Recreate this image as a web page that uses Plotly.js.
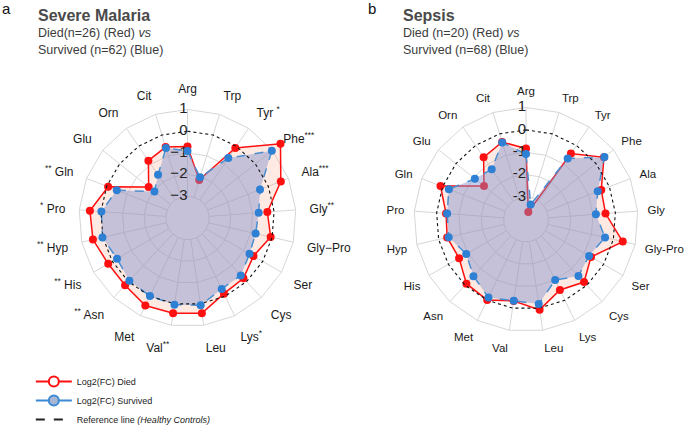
<!DOCTYPE html>
<html>
<head>
<meta charset="utf-8">
<script src="https://cdn.plot.ly/plotly-3.0.1.min.js"></script>
<style>html,body{margin:0;padding:0;background:#fff;}#chart{width:685px;height:426px;}</style>
</head>
<body>
<div id="chart"></div>
<script>
// ---- data ----
const categories = ['Arg','Trp','Tyr','Phe','Ala','Gly','Gly-Pro','Ser','Cys','Lys','Leu','Val','Met','Asn','His','Hyp','Pro','Gln','Glu','Orn','Cit'];
const malariaLabels = ['Arg','Trp','Tyr <sup>*</sup>','Phe<sup>***</sup>','Ala<sup>***</sup>','Gly<sup>**</sup>','Gly\u2212Pro','Ser','Cys','Lys<sup>*</sup>','Leu','Val<sup>**</sup>','Met','<sup>**</sup> Asn','<sup>**</sup> His','<sup>**</sup> Hyp','<sup>*</sup> Pro','<sup>**</sup> Gln','Glu','Orn','Cit'];
const sepsisLabels = ['Arg','Trp','Tyr','Phe','Ala','Gly','Gly-Pro','Ser','Cys','Lys','Leu','Val','Met','Asn','His','Hyp','Pro','Gln','Glu','Orn','Cit'];
const malariaDied =     [-0.71,-2.17,-0.09, 1.48, 0.62,-0.31,-0.07,-0.49,-0.21,-0.13, 0.44, 0.44, 0.48, 0.23, 0.22, 0.47, 0.51,-0.07,-1.71,-0.80,-0.58];
const malariaSurvived = [-0.91,-2.04,-0.66, 0.97,-0.41,-0.71,-0.78,-0.70,-0.39,-0.37, 0.07, 0.04,-0.01,-0.06,-0.25, 0.02,-0.02,-0.50,-2.05,-1.59,-0.63];
const sepsisDied =      [-0.83,-3.65,-0.44, 0.45,-0.39,-0.44, 0.43,-0.65,-0.19,-0.51, 0.08,-0.32,-0.01,-0.09,-0.55,-0.39,-0.42, 0.10,-1.60,-0.64,-0.38];
const sepsisSurvived =  [-1.08,-3.30,-0.70, 0.48,-0.56,-0.87,-0.38,-0.75,-0.56,-1.00,-0.18,-0.33,-0.14,-0.55,-0.92,-0.46,-0.47,-0.30,-1.08,-1.28,-0.40];
const referenceValue = 0;
const gridRings = [-3,-2,-1,1];
const radialTicks = [-3,-2,-1,0,1];
const malariaTickText = ['\u22123','\u22122','\u22121','0','1'];
const sepsisTickText = ['-3','-2','-1','0','1'];

// ---- styling ----
const FONT = 'Liberation Sans, Arial, sans-serif';
const GRID = '#d6d6d6';
const RED = '#ff1010';
const BLUE_LINE = '#4a8fd2';
const BLUE_MK = '#2e80d4';

function closed(a){ return a.concat([a[0]]); }

function gridTrace(sub){
  const th = [], r = [];
  // spokes from the innermost ring to the outer ring
  categories.forEach(c => { th.push(c,c,c); r.push(gridRings[0], gridRings[gridRings.length-1], null); });
  // polygonal rings
  gridRings.forEach(v => { closed(categories).forEach(c => { th.push(c); r.push(v); }); th.push(categories[0]); r.push(null); });
  return {type:'scatterpolar', subplot:sub, theta:th, r:r, mode:'lines',
    line:{color:GRID, width:1}, hoverinfo:'skip', showlegend:false, connectgaps:false};
}
function area(sub, vals, isRed){
  return {type:'scatterpolar', subplot:sub, theta:closed(categories), r:closed(vals),
    mode:'lines', fill:'toself',
    fillcolor: isRed ? 'rgba(250,150,110,0.20)' : 'rgba(128,145,205,0.45)',
    line: isRed ? {color:RED, width:1.5} : {color:BLUE_LINE, width:1.5, dash:'dash'},
    hoverinfo:'skip', showlegend:false};
}
function points(sub, vals, isRed){
  return {type:'scatterpolar', subplot:sub, theta:categories, r:vals, mode:'markers',
    marker:{size:8, color: isRed ? RED : BLUE_MK, symbol:'circle'},
    hoverinfo:'skip', showlegend:false, cliponaxis:false};
}
function refLine(sub){
  return {type:'scatterpolar', subplot:sub, theta:closed(categories),
    r:closed(categories.map(()=>referenceValue)), mode:'lines',
    line:{color:'#111', width:1.1, dash:'dot'}, hoverinfo:'skip', showlegend:false};
}
function tickLabels(sub, texts){
  return {type:'scatterpolar', subplot:sub, theta:radialTicks.map(()=>categories[0]), r:radialTicks,
    mode:'text', text:texts, textposition:'middle left',
    textfont:{family:FONT, size:15, color:'#222'}, hoverinfo:'skip', showlegend:false, cliponaxis:false};
}
function panel(sub, died, survived, texts){
  return [gridTrace(sub), area(sub, died, true), points(sub, died, true),
    area(sub, survived, false), refLine(sub), tickLabels(sub, texts), points(sub, survived, false)];
}

const data = [].concat(
  panel('polar', malariaDied, malariaSurvived, malariaTickText),
  panel('polar2', sepsisDied, sepsisSurvived, sepsisTickText),
  [
  {type:'scatterpolar', subplot:'polar', theta:[null], r:[null], mode:'lines+markers', name:'Log2(FC) Died',
   line:{color:RED, width:2}, marker:{size:10, color:'#fff', line:{color:RED, width:2}}},
  {type:'scatterpolar', subplot:'polar', theta:[null], r:[null], mode:'lines+markers', name:'Log2(FC) Survived',
   line:{color:'#3a8ad6', width:2}, marker:{size:10, color:'#a9b6d3', line:{color:'#3a8ad6', width:2}}},
  {type:'scatterpolar', subplot:'polar', theta:[null], r:[null], mode:'lines', name:'Reference line <i>(Healthy Controls)</i>',
   line:{color:'#222', width:2, dash:'dash'}}
  ]);

function polarLayout(domX, domY, rmax, labels, labelSize){
  return {
    domain:{x:domX, y:domY},
    gridshape:'circular',
    bgcolor:'rgba(0,0,0,0)',
    radialaxis:{range:[-4,rmax], angle:90, showline:false, ticks:'', showgrid:false, showticklabels:false},
    angularaxis:{type:'category', categoryarray:categories, direction:'clockwise', rotation:90,
      showgrid:false, showline:false, ticks:'',
      tickmode:'array', tickvals:categories, ticktext:labels,
      tickfont:{family:FONT, size:labelSize, color:'#1a1a1a'}}
  };
}

const W = 685, H = 426;
function dom(cx, cy, R){ return [[(cx-R)/W,(cx+R)/W],[1-(cy+R)/H,1-(cy-R)/H]]; }
const unitA = 21.7, rmaxA = 1.62;
const unitB = 22.4, rmaxB = 1.42;
const dA = dom(187.5, 218, unitA*(rmaxA+4));
const dB = dom(526, 219.5, unitB*(rmaxB+4));

function ann(text, x, y, size, color, bold){
  return {text: bold ? '<b>'+text+'</b>' : text, x:x/W, y:1-y/H, xref:'paper', yref:'paper',
    xanchor:'left', yanchor:'middle', showarrow:false, font:{family:FONT, size:size, color:color}};
}

const layout = {
  width:W, height:H, margin:{l:0,r:0,t:0,b:0, autoexpand:false},
  paper_bgcolor:'#fff', plot_bgcolor:'#fff', hovermode:false,
  font:{family:FONT},
  polar: polarLayout(dA[0], dA[1], rmaxA, malariaLabels, 12),
  polar2: polarLayout(dB[0], dB[1], rmaxB, sepsisLabels, 11.5),
  showlegend:true,
  legend:{x:0.045, xanchor:'left', y:1-367/H, yanchor:'top', bgcolor:'rgba(0,0,0,0)',
    itemwidth:36, font:{family:FONT, size:9, color:'#222'}},
  annotations:[
    ann('a', 0, 9, 15, '#111', false),
    ann('Severe Malaria', 36, 16, 16, '#4a4a4a', true),
    ann('Died(n=26) (Red) <i>vs</i>', 36, 33, 12.5, '#3c3c3c', false),
    ann('Survived (n=62) (Blue)', 36, 50, 12.5, '#3c3c3c', false),
    ann('b', 366, 9, 15, '#111', false),
    ann('Sepsis', 401, 16, 16, '#4a4a4a', true),
    ann('Died (n=20) (Red) <i>vs</i>', 401, 33, 12.5, '#3c3c3c', false),
    ann('Survived (n=68) (Blue)', 401, 50, 12.5, '#3c3c3c', false)
  ]
};

Plotly.newPlot('chart', data, layout, {staticPlot:true, displayModeBar:false});
</script>
</body>
</html>
